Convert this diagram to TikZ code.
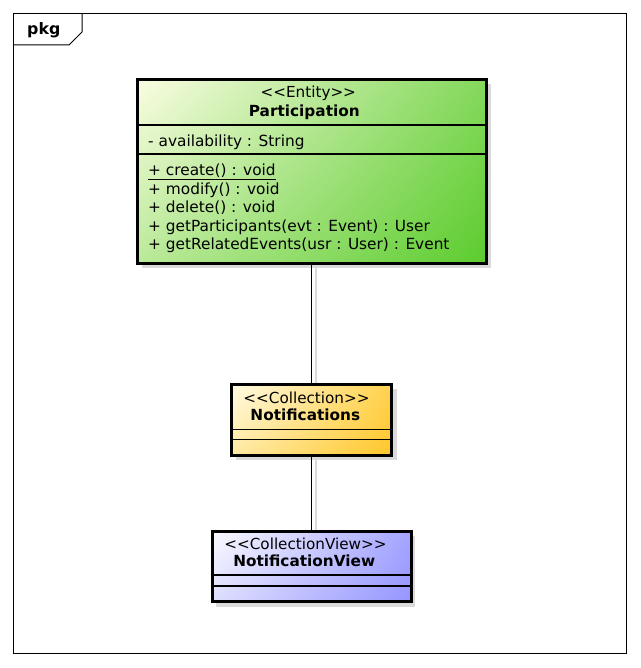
\documentclass[tikz,border=0pt]{standalone}
\usepackage{fontspec}
\setmainfont{DejaVu Sans}
\usetikzlibrary{shadings}
\definecolor{shadowc}{HTML}{DADADA}
\definecolor{gA}{HTML}{FAFDE2}
\definecolor{gB}{HTML}{5CCC2E}
\definecolor{yA}{HTML}{FFFBE4}
\definecolor{yB}{HTML}{FFC72A}
\definecolor{bA}{HTML}{FBFBFF}
\definecolor{bB}{HTML}{9595FF}
\tikzset{
  classbox/.style={draw=black, line width=3pt, inner sep=0pt, anchor=north west},
  sep/.style={line width=1.3pt},
  txt/.style={inner sep=0pt, anchor=base west, font=\fontsize{15.35}{17}\selectfont},
  ctxt/.style={inner sep=0pt, anchor=base, font=\fontsize{15.2}{17}\selectfont},
  btxt/.style={inner sep=0pt, anchor=base, font=\fontsize{15.3}{17}\selectfont\bfseries},
  conn/.style={line width=1.2pt, black},
  connshadow/.style={line width=1.2pt, shadowc},
}
\begin{document}
\begin{tikzpicture}[x=1pt,y=-1pt]
\useasboundingbox (0,0) rectangle (640,668);
% frame
\draw[line width=1pt] (13.5,13.5) rectangle (626.5,653.5);
\draw[line width=1pt] (13.5,45) -- (69,45) -- (82,32) -- (82,13.5);
\node[inner sep=0pt, anchor=base west, font=\fontsize{15.8}{17}\selectfont\bfseries] (pkg) at (27,35) {pkg};

% shadows
\fill[shadowc] (141.5,84) rectangle (491,268);
\fill[shadowc] (236,388.5) rectangle (396.5,460);
\fill[shadowc] (216,536) rectangle (415,607);
\draw[connshadow] (316,268) -- (316,388.5);
\draw[connshadow] (316,460) -- (316,536);

% Participation
\node[classbox, minimum width=349pt, minimum height=183.5pt,
  upper left=gA, lower right=gB, upper right=gB!75!gA, lower left=gB!40!gA] (part) at (135.5,78) {};
\draw[sep] (135.5,125) -- (484.5,125);
\draw[sep] (135.5,154) -- (484.5,154);
\node[ctxt] (partst) at (308.3,98) {<{}<Entity>{}>};
\node[btxt] (partnm) at (304.3,116.5) {Participation};
\node[txt] (pa1) at (148,147) {- availability : String};
\node[txt] (pm1) at (148,175.5) {\underline{+ create() : void}};
\node[txt] (pm2) at (148,194) {+ modify() : void};
\node[txt] (pm3) at (148,212.5) {+ delete() : void};
\node[txt] (pm4) at (148,231) {+ getParticipants(evt : Event) : User};
\node[txt] (pm5) at (148,249.5) {+ getRelatedEvents(usr : User) : Event};

% Notifications
\node[classbox, minimum width=160pt, minimum height=71pt,
  upper left=yA, lower right=yB, upper right=yB!80!yA, lower left=yB!35!yA] (notif) at (230,382.5) {};
\draw[sep] (230,429.3) -- (390,429.3);
\draw[sep] (230,439.3) -- (390,439.3);
\node[ctxt] (notifst) at (306.5,403.3) {<{}<Collection>{}>};
\node[btxt] (notifnm) at (305.3,420.7) {Notifications};

% NotificationView
\node[classbox, minimum width=199pt, minimum height=70pt,
  upper left=bA, lower right=bB, upper right=bB!85!bA, lower left=bB!30!bA] (nview) at (210.5,530) {};
\draw[sep] (210.5,575) -- (409.5,575);
\draw[sep] (210.5,586) -- (409.5,586);
\node[ctxt] (nviewst) at (305.5,549.3) {<{}<CollectionView>{}>};
\node[btxt] (nviewnm) at (304.2,566.7) {NotificationView};

% connectors
\draw[conn] (part.south) -- (notif.north);
\draw[conn] (notif.south) -- (nview.north);
\end{tikzpicture}
\end{document}
